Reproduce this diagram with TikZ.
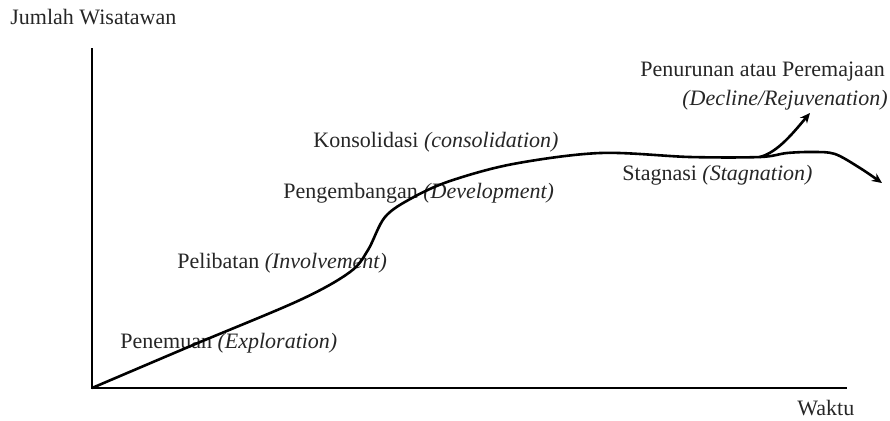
\documentclass[tikz,border=0pt]{standalone}
\usepackage{fontspec}
\setmainfont{Liberation Serif}
\usetikzlibrary{arrows.meta}

\begin{document}
\begin{tikzpicture}[
  x=0.5pt, y=-0.5pt, font=\fontsize{11}{13}\selectfont,
  lbl/.style={anchor=west,inner sep=0pt,text=black!85},
  axis/.style={line width=1.3pt},
  curve/.style={line width=1.3pt,-{Stealth[length=5pt,width=4.5pt]}}]
\useasboundingbox (0,0) rectangle (890,420);

% axes
\coordinate (O) at (92,388);
\coordinate (ytop) at (92,48);
\coordinate (xend) at (847,388);
\draw[axis] (ytop) -- (O) -- (xend);

\node[lbl] (ylab) at (10,17) {Jumlah Wisatawan};
\node[lbl] (xlab) at (797,408) {Waktu};

% stages
\node[lbl] (expl) at (120,343) {Penemuan \textit{(Exploration)}};
\node[lbl] (invo) at (177,263) {Pelibatan \textit{(Involvement)}};
\node[lbl] (deve) at (283,193) {Pengembangan \textit{(Development)}};
\node[lbl] (cons) at (313,142) {Konsolidasi \textit{(consolidation)}};
\node[lbl] (stag) at (622,175) {Stagnasi \textit{(Stagnation)}};
\node[lbl] (decl) at (640,72) {Penurunan atau Peremajaan};
\node[lbl,anchor=east] (rejv) at (888,100) {\textit{(Decline/Rejuvenation)}};

% life cycle curve
\coordinate (split) at (760,157);
\draw[curve] plot[smooth,tension=0.55] coordinates {
  (O) (193,345) (300,300) (350,272) (368,250) (385,217) (412,198)
  (450,181) (513,164) (600,153) (690,157) (split) (787,153) (813,152)
  (835,154) (860,168) (882,183)};
\draw[curve] (split) .. controls (778,152) and (793,133) .. (810,113);
\end{tikzpicture}
\end{document}
